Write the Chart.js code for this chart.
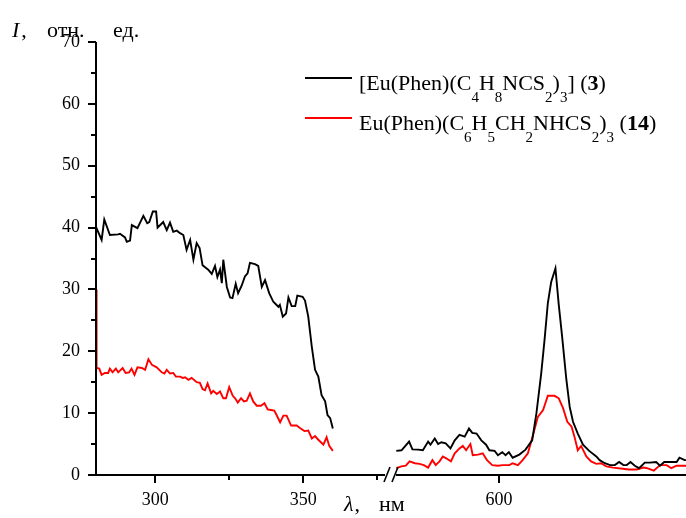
<!DOCTYPE html>
<html>
<head>
<meta charset="utf-8">
<script src="https://cdn.jsdelivr.net/npm/chart.js@4/dist/chart.umd.min.js"></script>
<style>
html,body{margin:0;padding:0;background:#fff}
canvas{display:block}
</style>
</head>
<body>
<canvas id="spec" width="686" height="518"></canvas>
<script>
// ---- spectra, UV part (excitation) ----
const blackUvNm = [280,280.9,281.9,282.8,284.7,287.5,288.1,289.8,290.4,291.5,292.1,294,296,297.3,298,299.2,300.3,300.8,302.7,303.9,305,306.1,307.3,308.4,309.5,310.6,311.8,312.9,314,315,316,317.9,319.1,320.2,321,321.9,322.5,323,324.2,325.3,326.1,327.2,328,329.2,330.3,331.2,332,333.7,334.8,336,337.1,338.5,339.9,341.6,342.1,343.1,344.2,345,346.1,347.3,348,349.8,350.6,351.7,352.9,354,355.1,356.2,357.4,358.2,359.1,360];
const blackUvI  = [40.1,39.1,38.0,41.3,38.8,38.9,39.0,38.4,37.7,37.9,40.4,39.9,41.9,40.7,40.9,42.6,42.6,40.0,40.9,39.6,40.8,39.3,39.5,39.1,38.8,36.4,38.0,34.8,37.5,36.7,33.9,33.2,32.5,33.8,32.0,33.2,31.0,34.8,30.4,28.7,28.6,30.9,29.4,30.6,32.1,32.6,34.3,34.1,33.8,30.4,31.5,29.4,28.0,27.2,27.5,25.6,26.1,28.7,27.3,27.3,29.0,28.8,28.2,25.6,20.7,17.0,15.9,12.9,11.9,9.7,9.2,7.5];

const redUvNm = [280.0,280.2,281.1,281.9,283.0,284.1,284.7,285.6,286.7,287.5,289.0,290.0,291.2,292.0,293.0,294.0,295.5,296.6,297.7,298.9,300.5,302.2,303.1,303.9,305.0,306.1,307.0,308.4,309.3,310.1,311.2,312.3,314.0,315.1,316.0,316.8,317.7,318.9,319.6,320.8,321.9,323.0,323.9,325.0,326.2,327.0,327.9,329.0,330.0,330.9,332.0,333.1,334.3,335.7,336.9,338.0,339.1,340.2,341.0,342.2,343.3,344.4,345.9,347.8,348.9,350.4,351.7,352.9,354.0,355.1,356.8,357.9,358.8,360.0];
const redUvI  = [30.0,17.3,17.2,16.2,16.5,16.5,17.2,16.6,17.2,16.6,17.3,16.5,16.6,17.2,16.2,17.4,17.3,17.0,18.7,17.8,17.4,16.6,16.4,17.0,16.4,16.5,15.9,15.9,15.7,15.8,15.4,15.7,15.0,14.9,13.9,13.7,14.8,13.2,13.6,13.1,13.5,12.4,12.4,14.2,12.8,12.4,11.7,12.4,11.9,12.0,13.2,11.9,11.2,11.2,11.6,10.6,10.5,10.4,9.7,8.5,9.6,9.6,8.0,8.0,7.6,7.1,7.2,5.9,6.3,5.7,4.9,6.1,4.7,3.9];

// ---- spectra, visible part (Eu3+ emission) ----
const blackVisNm = [578.4,579.5,581.1,581.8,583.0,584.0,585.1,585.6,586.5,587.2,587.9,588.8,589.8,590.7,591.7,592.8,593.7,594.4,595.3,596.3,597.3,598.0,599.1,599.8,600.7,601.4,602.1,602.9,604.3,605.6,607.0,607.9,608.9,609.6,610.3,611.0,611.9,612.6,613.3,614.2,614.9,615.6,616.6,617.7,619.0,620.5,621.2,622.3,623.4,624.4,625.3,626.2,626.9,627.7,628.6,629.5,630.7,631.8,633.1,633.9,634.8,636.3,637.4,638.0,639.1,640];
const blackVisI  = [3.9,4.0,5.4,4.15,4.1,4.0,5.4,4.9,5.9,5.0,5.3,5.1,4.3,5.6,6.5,6.2,7.5,6.8,6.7,5.6,4.9,4.0,3.9,3.2,3.7,3.2,3.7,2.8,3.3,4.1,5.6,10.0,16.4,21.8,27.8,31.2,33.4,27.5,22.4,15.4,11.0,8.6,6.7,4.9,3.9,3.0,2.4,1.9,1.6,1.6,2.1,1.6,1.6,2.1,1.5,1.1,2.0,2.0,2.1,1.5,2.1,2.1,2.1,2.8,2.4,2.4];

const redVisNm = [578.4,579.5,580.4,581.2,582.3,583.3,584.2,585.1,586.0,586.7,587.5,588.2,588.9,589.9,590.7,591.7,592.4,593.1,594.0,594.5,595.6,596.6,597.5,598.6,599.8,600.8,602.2,602.9,604.0,605.0,606.1,607.2,608.2,609.3,610.3,611.7,612.6,613.5,614.4,615.3,615.9,616.6,617.3,618.4,619.4,620.5,621.5,622.6,624.0,626.1,627.3,629.0,630.4,631.2,632.6,633.9,635.3,636.3,637.4,639.1,640];
const redVisI  = [1.1,1.4,1.5,2.2,1.9,1.8,1.6,1.2,2.4,1.6,2.2,3.0,2.7,2.2,3.5,4.3,4.7,4.0,5.0,3.2,3.3,3.5,2.4,1.6,1.5,1.6,1.6,1.9,1.6,2.4,3.5,6.5,9.4,10.5,12.8,12.8,12.4,10.8,8.6,7.8,6.2,4.0,4.7,3.0,2.2,1.8,1.9,1.4,1.2,1.0,0.9,0.9,1.2,1.1,0.7,1.6,1.6,1.1,1.5,1.5,1.5];

const xTickLabels = [300, 350, 600];
const xMinorTicks = [325, 375];
const yMax = 70;

// broken wavelength axis: UV part as is, visible part shifted and stretched
const VIS_ORIGIN = 416.1, VIS_STRETCH = 1.605, BREAK_AT = 377.5;
function axisPos(nm) {
  return nm < 450 ? nm : VIS_ORIGIN + (nm - 600) * VIS_STRETCH;
}
function toPoints(uvNm, uvI, visNm, visI) {
  const pts = uvNm.map((v, i) => ({x: axisPos(v), y: uvI[i]}));
  pts.push({x: axisPos(BREAK_AT + 2), y: null});
  return pts.concat(visNm.map((v, i) => ({x: axisPos(v), y: visI[i]})));
}

const SERIF = '"Liberation Serif", "Times New Roman", serif';

function drawRich(ctx, x, base, parts) {
  parts.forEach(([txt, kind]) => {
    ctx.font = kind === 's' ? '15px ' + SERIF : (kind === 'b' ? 'bold 22px ' + SERIF : '22px ' + SERIF);
    ctx.fillText(txt, x, base + (kind === 's' ? 12 : 0));
    x += ctx.measureText(txt).width;
  });
}

const legendRows = [
  {color: '#000', parts: [['[Eu(Phen)(C','n'],['4','s'],['H','n'],['8','s'],['NCS','n'],['2','s'],[')','n'],['3','s'],['] (','n'],['3','b'],[')','n']]},
  {color: '#ff0000', parts: [['Eu(Phen)(C','n'],['6','s'],['H','n'],['5','s'],['CH','n'],['2','s'],['NHCS','n'],['2','s'],[')','n'],['3','s'],[' (','n'],['14','b'],[')','n']]}
];

const decor = {
  id: 'decor',
  afterDraw(chart) {
    const {ctx, chartArea: a, scales: {x, y}} = chart;
    const seg = (x1, y1, x2, y2) => { ctx.beginPath(); ctx.moveTo(x1, y1); ctx.lineTo(x2, y2); ctx.stroke(); };
    ctx.save();
    ctx.strokeStyle = '#000';
    ctx.lineWidth = 2;

    // y axis + ticks
    seg(a.left, a.top, a.left, a.bottom + 1);
    for (let v = 0; v <= yMax; v += 5) {
      const py = Math.round(y.getPixelForValue(v));
      seg(a.left - (v % 10 ? 5 : 8), py, a.left, py);
    }

    // x axis with the break marks
    const bx = Math.round(x.getPixelForValue(BREAK_AT));
    seg(a.left, a.bottom, bx, a.bottom);
    seg(bx + 11, a.bottom, a.right, a.bottom);
    ctx.lineWidth = 1.6;
    seg(bx - 1, a.bottom + 7, bx + 5, a.bottom - 8);
    seg(bx + 7, a.bottom + 7, bx + 13, a.bottom - 8);
    ctx.lineWidth = 2;
    xTickLabels.forEach(v => { const px = Math.round(x.getPixelForValue(axisPos(v))); seg(px, a.bottom, px, a.bottom + 8); });
    xMinorTicks.forEach(v => { const px = Math.round(x.getPixelForValue(axisPos(v))); seg(px, a.bottom, px, a.bottom + 5); });

    // axis titles
    ctx.fillStyle = '#000';
    ctx.textBaseline = 'alphabetic';
    ctx.font = 'italic 22px ' + SERIF;
    ctx.fillText('I', 12, 37);
    let w = ctx.measureText('I').width;
    ctx.font = '22px ' + SERIF;
    ctx.fillText(',', 12 + w + 2, 37);
    ctx.fillText('отн.', 47, 37);
    ctx.fillText('ед.', 113, 37);

    ctx.font = 'italic 22px ' + SERIF;
    ctx.fillText('λ', 344, 511);
    w = ctx.measureText('λ').width;
    ctx.font = '22px ' + SERIF;
    ctx.fillText(',', 344 + w + 1, 511);
    ctx.fillText('нм', 379, 511);

    // legend
    legendRows.forEach((row, i) => {
      const ly = 78 + i * 40;
      ctx.strokeStyle = row.color;
      ctx.lineWidth = 1.8;
      seg(305, ly, 352, ly);
      ctx.fillStyle = '#000';
      drawRich(ctx, 359, ly + 12, row.parts);
    });
    ctx.restore();
  }
};

new Chart(document.getElementById('spec'), {
  type: 'line',
  data: {
    datasets: [
      {label: 'black', data: toPoints(blackUvNm, blackUvI, blackVisNm, blackVisI), borderColor: '#000', borderWidth: 1.9},
      {label: 'red', data: toPoints(redUvNm, redUvI, redVisNm, redVisI), borderColor: '#ff0000', borderWidth: 1.9}
    ]
  },
  options: {
    responsive: false,
    animation: false,
    devicePixelRatio: 1,
    parsing: false,
    spanGaps: false,
    elements: {point: {radius: 0}, line: {tension: 0, fill: false}},
    layout: {padding: {top: 42, right: 0, bottom: 0, left: 0}},
    plugins: {legend: {display: false}, tooltip: {enabled: false}},
    scales: {
      x: {
        type: 'linear',
        min: 280,
        max: 479.3,
        grid: {display: false, drawTicks: false},
        border: {display: false},
        afterBuildTicks: s => { s.ticks = xTickLabels.map(v => ({value: axisPos(v)})); },
        afterFit: s => { s.height = 43; },
        ticks: {
          padding: 14,
          color: '#000',
          font: {family: SERIF, size: 18},
          maxRotation: 0,
          callback: (v, i) => xTickLabels[i]
        }
      },
      y: {
        min: 0,
        max: yMax,
        grid: {display: false, drawTicks: false},
        border: {display: false},
        afterFit: s => { s.width = 96; },
        ticks: {stepSize: 10, padding: 16, color: '#000', font: {family: SERIF, size: 18}}
      }
    }
  },
  plugins: [decor]
});
</script>
</body>
</html>
